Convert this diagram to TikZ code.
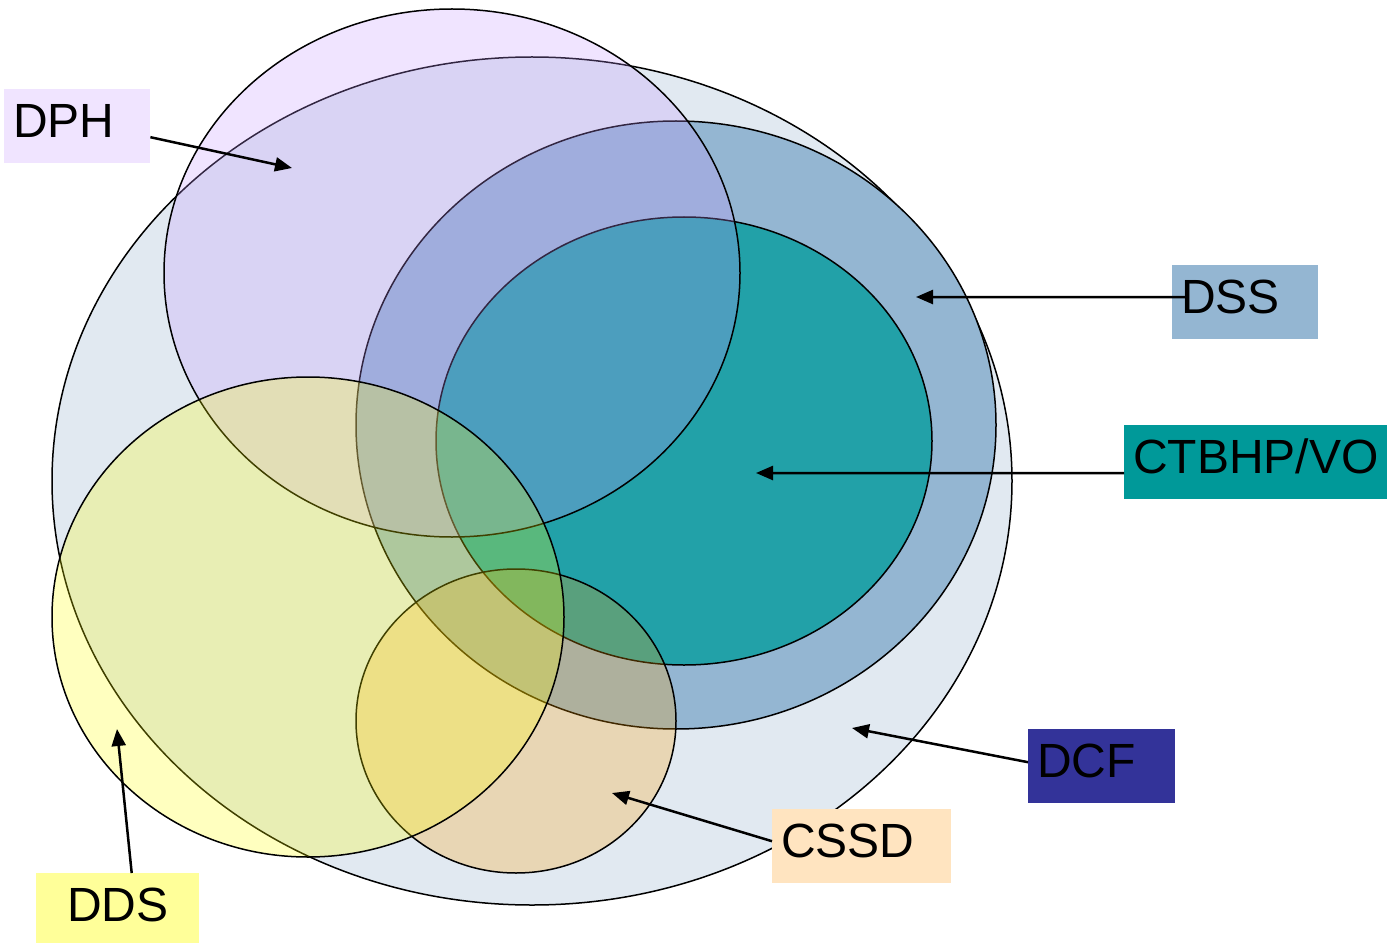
\documentclass[tikz,border=0pt]{standalone}
\usepackage{fontspec}
\setmainfont{Liberation Sans}
\usepackage{tikz}
\usetikzlibrary{arrows.meta,positioning}

\definecolor{dcffill}{RGB}{225,233,241}
\definecolor{dcflab}{RGB}{51,51,153}
\definecolor{dssfill}{RGB}{148,182,210}
\definecolor{ctbfill}{RGB}{34,161,168}
\definecolor{ctblab}{RGB}{0,153,153}
\definecolor{dphfill}{RGB}{197,150,255}
\definecolor{dphlab}{RGB}{240,228,255}
\definecolor{cssdfill}{RGB}{255,160,0}
\definecolor{cssdlab}{RGB}{255,228,192}
\definecolor{ddsfill}{RGB}{255,255,0}
\definecolor{ddslab}{RGB}{255,255,153}

\begin{document}
\begin{tikzpicture}[x=1pt,y=-1pt,
	ring/.style={draw=black,line width=1.5pt},
	tag/.style={anchor=north west,inner xsep=9pt,inner ysep=0pt,text height=48pt,text depth=26pt,align=left,font=\fontsize{48}{57}\selectfont},
	pointer/.style={line width=2.5pt,-{Triangle[length=17pt,width=14pt]}}]
	\useasboundingbox (0,0) rectangle (1387,944);
	% sets
	\draw [ring, fill=dcffill] (532,481) ellipse [x radius=480, y radius=424];
	\draw [ring, fill=dssfill] (676,425) ellipse [x radius=320, y radius=304];
	\draw [ring, fill=ctbfill] (684,441) ellipse [x radius=248, y radius=224];
	\draw [ring, fill=dphfill, fill opacity=0.26] (452,273) ellipse [x radius=288, y radius=264];
	\draw [ring, fill=cssdfill, fill opacity=0.25] (516,721) ellipse [x radius=160, y radius=152];
	\draw [ring, fill=ddsfill, fill opacity=0.25] (308,617) ellipse [x radius=256, y radius=240];
	% labels
	\node [tag, fill=dphlab, text width=128pt] (dph) at (4,89) {DPH};
	\node [tag, fill=dssfill, text width=128pt] (dss) at (1172,265) {DSS};
	\node [tag, fill=ctblab, text width=245pt] (ctb) at (1124,425) {CTBHP/VO};
	\node [tag, fill=dcflab, text width=129pt] (dcf) at (1028,729) {DCF};
	\node [tag, fill=cssdlab, text width=161pt] (cssd) at (772,809) {CSSD};
	\node [tag, fill=ddslab, align=center, text width=145pt, text depth=22pt] (dds) at (36,873) {DDS};
	% arrow tips
	\coordinate (dphtip) at (292,168);
	\coordinate (dsstip) at (916,297);
	\coordinate (ctbtip) at (756,473);
	\coordinate (dcftip) at (852,728);
	\coordinate (cssdtip) at (612,793);
	\coordinate (ddstip) at (117,729);
	\draw [pointer] ([yshift=-11pt]dph.east) -- (dphtip);
	\draw [pointer] ([xshift=15pt,yshift=5pt]dss.west) -- (dsstip);
	\draw [pointer] ([yshift=-11pt]ctb.west) -- (ctbtip);
	\draw [pointer] ([yshift=4pt]dcf.west) -- (dcftip);
	\draw [pointer] ([yshift=5pt]cssd.west) -- (cssdtip);
	\draw [pointer] ([xshift=14pt]dds.north) -- (ddstip);
\end{tikzpicture}
\end{document}
